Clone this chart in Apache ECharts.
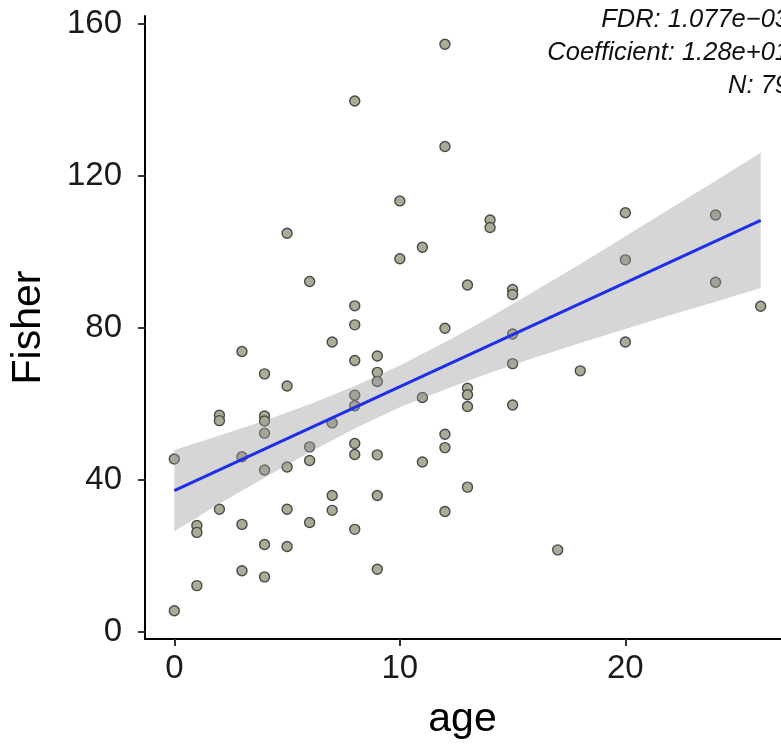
<!DOCTYPE html>
<html>
<head>
<meta charset="utf-8">
<script src="https://cdn.jsdelivr.net/npm/echarts@6/dist/echarts.min.js"></script>
<style>
  html, body { margin: 0; padding: 0; background: #ffffff; }
  #chart { width: 781px; height: 749px; }
</style>
</head>
<body>
<div id="chart"></div>
<script>
// Observed samples: age (years) and Fisher score
const pointAge = [
  0, 0,
  1, 1, 1,
  2, 2, 2,
  3, 3, 3, 3,
  4, 4, 4, 4, 4, 4, 4,
  5, 5, 5, 5, 5,
  6, 6, 6, 6,
  7, 7, 7, 7,
  8, 8, 8, 8, 8, 8, 8, 8, 8,
  9, 9, 9, 9, 9, 9,
  10, 10,
  11, 11, 11,
  12, 12, 12, 12, 12, 12,
  13, 13, 13, 13, 13,
  14, 14,
  15, 15, 15, 15, 15,
  17,
  18,
  20, 20, 20,
  24, 24,
  26
];
const pointFisher = [
  45.5, 5.6,
  28.0, 26.2, 12.2,
  57.0, 55.6, 32.3,
  73.8, 46.1, 28.3, 16.1,
  67.9, 56.8, 55.5, 52.3, 42.6, 23.0, 14.5,
  104.9, 64.7, 43.4, 32.3, 22.5,
  92.2, 48.7, 45.1, 28.8,
  76.3, 55.0, 35.9, 32.0,
  139.7, 85.8, 80.8, 71.4, 62.3, 59.5, 49.6, 46.7, 27.0,
  72.6, 68.3, 65.9, 46.6, 35.9, 16.5,
  113.4, 98.2,
  101.2, 61.7, 44.7,
  154.6, 127.7, 79.9, 52.0, 48.5, 31.7,
  91.3, 64.1, 62.4, 59.3, 38.1,
  108.4, 106.4,
  90.1, 88.8, 78.4, 70.6, 59.7,
  21.6,
  68.7,
  110.3, 97.9, 76.3,
  109.7, 92.0,
  85.7
];

// Fitted linear trend and its confidence band
const fitAge = [0, 26];
const fitFisher = [37.2, 108.3];
const bandAge = [0, 2, 4, 6, 8, 10, 12, 14, 16, 18, 20, 22, 24, 26];
const bandLower = [26.5, 33.7, 40.6, 47.3, 53.5, 59.1, 63.8, 68.2, 72.2, 76.0, 79.7, 83.4, 86.9, 90.5];
const bandUpper = [47.9, 51.7, 55.6, 59.9, 64.7, 70.1, 76.2, 82.8, 89.8, 96.8, 104.1, 111.4, 118.7, 126.1];

// Axis ticks and annotation text
const xTicks = [0, 10, 20];
const yTicks = [0, 40, 80, 120, 160];
const statLines = ['FDR: 1.077e\u221203', 'Coefficient: 1.28e+01', 'N: 79'];

const scatterData = pointAge.map((a, i) => [a, pointFisher[i]]);
const fitData = fitAge.map((a, i) => [a, fitFisher[i]]);
const bandData = [[0]];

const chart = echarts.init(document.getElementById('chart'), null, { renderer: 'canvas' });

const fontFam = '"Liberation Sans", Arial, Helvetica, sans-serif';
const axisCommon = {
  axisLine: { show: true, onZero: false, lineStyle: { color: '#000000', width: 2 } },
  axisTick: { show: true, length: 7, lineStyle: { color: '#333333', width: 2 } },
  splitLine: { show: false },
};

chart.setOption({
  animation: false,
  backgroundColor: '#ffffff',
  grid: { left: 145, top: 16, width: 645, height: 623, containLabel: false, outerBoundsMode: 'none' },
  xAxis: Object.assign({}, axisCommon, {
    type: 'value',
    min: -1.3,
    max: 27.3,
    axisTick: Object.assign({}, axisCommon.axisTick, { customValues: xTicks }),
    axisLabel: { customValues: xTicks, color: '#1a1a1a', fontSize: 33, fontFamily: fontFam, margin: 13 },
    name: 'age',
    nameLocation: 'middle',
    nameGap: 60,
    nameTextStyle: { color: '#000000', fontSize: 41, fontFamily: fontFam, padding: [0, 10, 0, 0] },
  }),
  yAxis: Object.assign({}, axisCommon, {
    type: 'value',
    min: -1.85,
    max: 162.05,
    axisTick: Object.assign({}, axisCommon.axisTick, { customValues: yTicks }),
    axisLabel: { customValues: yTicks, color: '#1a1a1a', fontSize: 33, fontFamily: fontFam, margin: 23 },
    name: 'Fisher',
    nameLocation: 'middle',
    nameGap: 96,
    nameTextStyle: { color: '#000000', fontSize: 41, fontFamily: fontFam },
  }),
  graphic: statLines.map((t, i) => ({
    type: 'text',
    right: -8,
    top: 7 + i * 33,
    z: 10,
    style: {
      text: t,
      fill: '#111111',
      font: 'italic 25.5px ' + fontFam,
      textAlign: 'right',
    },
  })),
  series: [
    {
      type: 'scatter',
      data: scatterData,
      symbol: 'circle',
      symbolSize: 10,
      z: 2,
      itemStyle: { color: '#abab96', borderColor: '#4a4a4a', borderWidth: 1.4, opacity: 1 },
    },
    {
      type: 'custom',
      z: 3,
      data: bandData,
      renderItem: function (params, api) {
        const pts = [];
        for (let i = 0; i < bandAge.length; i++) pts.push(api.coord([bandAge[i], bandUpper[i]]));
        for (let i = bandAge.length - 1; i >= 0; i--) pts.push(api.coord([bandAge[i], bandLower[i]]));
        return {
          type: 'polygon',
          shape: { points: pts },
          style: { fill: 'rgba(153,153,153,0.4)', stroke: 'none' },
        };
      },
    },
    {
      type: 'line',
      data: fitData,
      z: 4,
      symbol: 'none',
      lineStyle: { color: '#1f2fe6', width: 3 },
    },
  ],
});
</script>
</body>
</html>
